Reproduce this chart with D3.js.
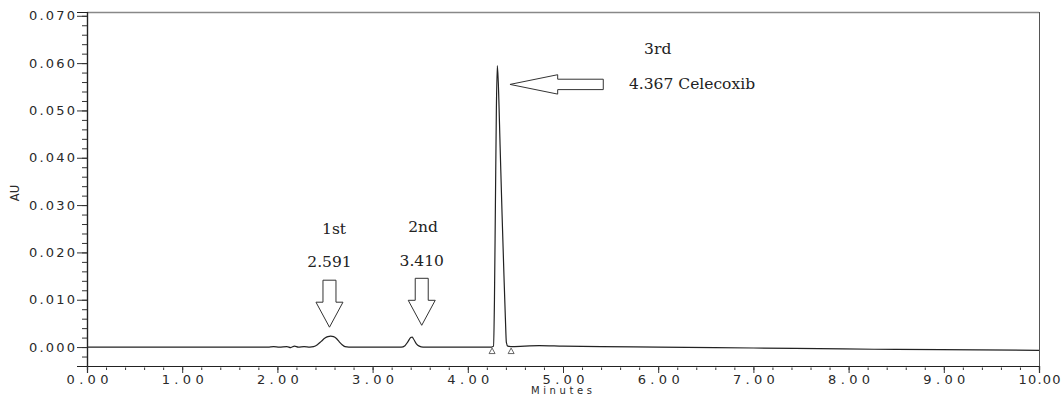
<!DOCTYPE html>
<html><head><meta charset="utf-8">
<script src="https://cdn.jsdelivr.net/npm/d3@7"></script>
<style>body{margin:0;background:#fff}svg{display:block}</style>
</head><body>
<svg id="c" width="1063" height="397"></svg>
<script>
// ---- data ----
const times = [0,0.5,1.0,1.5,1.9,1.96,2.02,2.10,2.14,2.18,2.22,2.28,2.34,
  2.38,2.42,2.46,2.50,2.53,2.56,2.59,2.62,2.65,2.68,2.71,2.75,
  3.0,3.30,3.34,3.37,3.40,3.415,3.43,3.46,3.49,3.53,3.8,4.1,
  4.25,4.27,4.28,4.29,4.30,4.31,4.32,4.34,4.36,4.38,4.395,4.405,4.42,4.45,
  4.6,4.75,5.0,5.4,6.0,7.0,7.94,8.5,9.37,10.0];
const au = [0,0,0,0,0,0.0001,0,0.0001,-0.0001,0.0002,0,0.0001,0,
  0.0001,0.0005,0.0012,0.0019,0.0022,0.0023,0.0022,0.0018,0.0011,0.0005,0.0001,0,
  0,0,0.0003,0.0011,0.0020,0.0021,0.0017,0.0007,0.0002,0,0,0,
  0,0.0002,0.0100,0.0300,0.0500,0.0595,0.0560,0.0420,0.0280,0.0150,0.0060,0.0010,0.0002,0.0001,
  0.0002,0.0003,0.0002,0.0001,0.0000,-0.0002,-0.0004,-0.0005,-0.0006,-0.0007];
const markerTimes = [4.255, 4.455];
const yTicksMajor = [0,0.01,0.02,0.03,0.04,0.05,0.06,0.07];
const xTicksMajor = [0,1,2,3,4,5,6,7,8,9,10];
const arrowTips = [[2.547,0.0042,"down"],[3.516,0.0046,"down"],[4.443,0.0555,"left"]];
const annTexts = ["1st","2.591","2nd","3.410","3rd","4.367 Celecoxib"];
const annTimes = [2.595,2.547,3.53,3.516,5.995,5.693];
const annAU = [0.0239,0.0170,0.0244,0.0172,0.0619,0.0545];
const annAnchor = ["middle","middle","middle","middle","middle","start"];

// ---- chart ----
const svg = d3.select("#c");
const L = 87, R = 1039, T = 12, B = 366;
const x = d3.scaleLinear().domain([0,10]).range([L,R]);
const y = d3.scaleLinear().domain([-0.004,0.0708]).range([B,T]);
const sans = "DejaVu Sans, Verdana, sans-serif";

// frame top/right
svg.append("line").attr("x1",L).attr("x2",R).attr("y1",T+0.5).attr("y2",T+0.5).attr("stroke","#888").attr("stroke-width",1.6);
svg.append("line").attr("x1",R+0.5).attr("x2",R+0.5).attr("y1",T).attr("y2",B).attr("stroke","#555");

// y axis
const yMinor = d3.range(-0.004,0.0705,0.002);
const yMinorAx = svg.append("g").attr("transform",`translate(${L},0)`)
  .call(d3.axisLeft(y).tickValues(yMinor).tickSize(5).tickFormat(""));
const yAx = svg.append("g").attr("transform",`translate(${L},0)`)
  .call(d3.axisLeft(y).tickValues(yTicksMajor).tickSize(10).tickPadding(2).tickFormat(d3.format(".3f")));
// x axis
const xMinor = d3.range(0,10.01,0.2);
const xMinorAx = svg.append("g").attr("transform",`translate(0,${B})`)
  .call(d3.axisBottom(x).tickValues(xMinor).tickSize(4).tickFormat(""));
const xAx = svg.append("g").attr("transform",`translate(0,${B})`)
  .call(d3.axisBottom(x).tickValues(xTicksMajor).tickSize(7).tickPadding(3).tickFormat(d3.format(".2f")));
[yMinorAx,yAx,xMinorAx,xAx].forEach(g=>{
  g.select(".domain").attr("stroke","#222").attr("stroke-width",1.2);
  g.selectAll(".tick line").attr("stroke","#333");
});
xMinorAx.selectAll(".tick line").attr("y1",1.5);
yAx.selectAll("text").attr("font-family",sans).attr("font-size",13)
  .attr("fill","#2a2a2a").attr("textLength",46).attr("lengthAdjust","spacing");
xAx.selectAll("text").attr("font-family",sans).attr("font-size",13)
  .attr("fill","#2a2a2a").attr("textLength",42).attr("lengthAdjust","spacing").attr("y",8.5).attr("dy","0.72em");

// axis titles
svg.append("text").attr("transform",`translate(19,193) rotate(-90)`).attr("text-anchor","middle")
  .attr("font-family",sans).attr("font-size",11.5).attr("fill","#2a2a2a").text("AU");
svg.append("text").attr("x",531).attr("y",394).attr("textLength",61).attr("lengthAdjust","spacing")
  .attr("font-family",sans).attr("font-size",10).attr("fill","#2a2a2a").text("Minutes");

// trace
const pts = times.map((t,i)=>[t,au[i]]);
svg.append("path").datum(pts)
  .attr("d",d3.line().x(d=>x(d[0])).y(d=>y(d[1])).curve(d3.curveMonotoneX))
  .attr("fill","none").attr("stroke","#222").attr("stroke-width",1.2);

// integration markers
svg.selectAll(".mk").data(markerTimes).join("path").attr("class","mk")
  .attr("d",d=>{const cx=x(d),cy=y(0)+4;return `M${cx-3},${cy+2.5}L${cx},${cy-3}L${cx+3},${cy+2.5}Z`;})
  .attr("fill","#fff").attr("stroke","#555").attr("stroke-width",0.9);

// arrows
svg.selectAll(".arw").data(arrowTips).join("path").attr("class","arw")
  .attr("d",d=>{
    const ax=x(d[0]), ay=y(d[1]);
    if(d[2]==="down"){
      return `M${ax},${ay}L${ax-13.5},${ay-25}L${ax-6.5},${ay-25}L${ax-6.5},${ay-47}L${ax+6.5},${ay-47}L${ax+6.5},${ay-25}L${ax+13.5},${ay-25}Z`;
    }
    return `M${ax},${ay}L${ax+47.7},${ay-9.7}L${ax+47.7},${ay-5.2}L${ax+93.3},${ay-5.2}L${ax+93.3},${ay+5.2}L${ax+47.7},${ay+5.2}L${ax+47.7},${ay+9.7}Z`;
  })
  .attr("fill","#fff").attr("stroke","#333").attr("stroke-width",1);

// annotation texts
svg.selectAll(".ann").data(annTexts).join("text").attr("class","ann")
  .attr("x",(d,i)=>x(annTimes[i])).attr("y",(d,i)=>y(annAU[i]))
  .attr("text-anchor",(d,i)=>annAnchor[i])
  .attr("font-family","DejaVu Serif, serif").attr("font-size",15.5).attr("fill","#222").text(d=>d);
</script>
</body></html>
